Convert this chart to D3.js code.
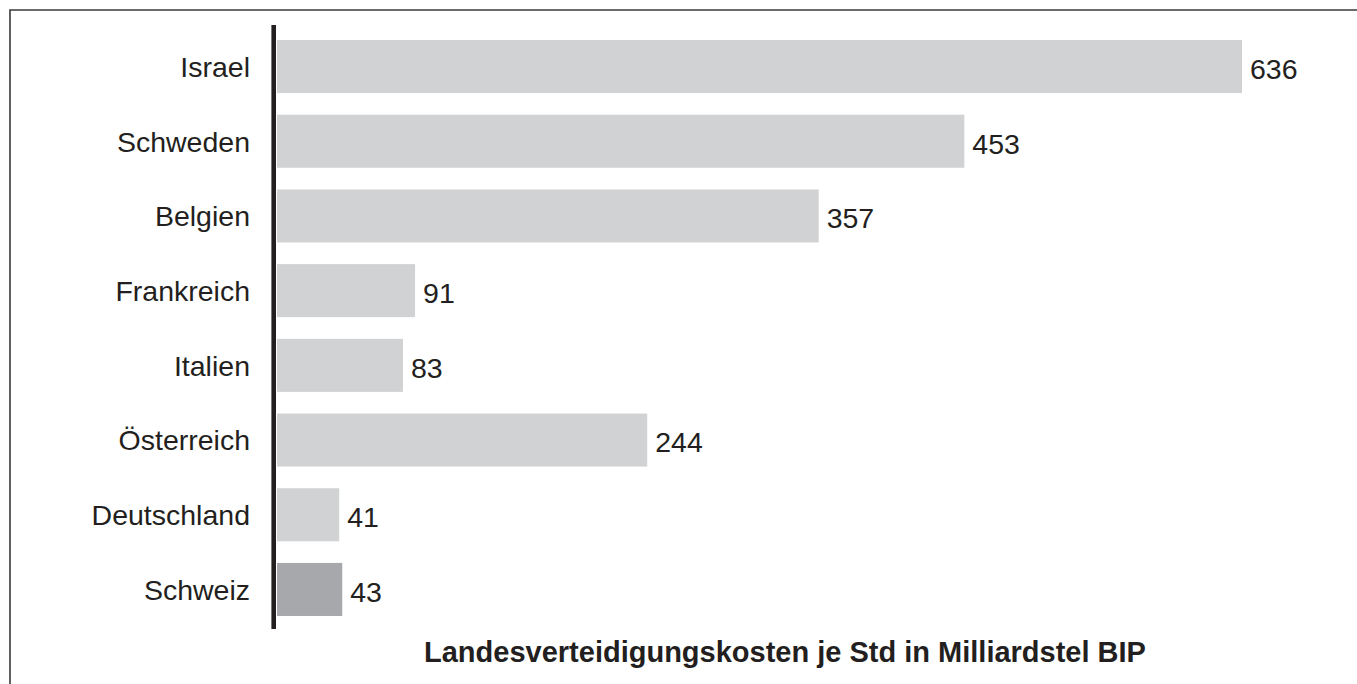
<!DOCTYPE html>
<html>
<head>
<meta charset="utf-8">
<script src="https://cdn.jsdelivr.net/npm/d3@7"></script>
<style>
html,body{margin:0;padding:0;background:#fff;}
svg{display:block;}
text{font-family:"Liberation Sans",Arial,sans-serif;fill:#231f20;}
</style>
</head>
<body>
<svg id="chart" width="1357" height="684"></svg>
<script>
const countries = ["Israel","Schweden","Belgien","Frankreich","Italien","Österreich","Deutschland","Schweiz"];
const values = [636,453,357,91,83,244,41,43];
const highlight = ["Schweiz"];
const titleText = "Landesverteidigungskosten je Std in Milliardstel BIP";

const svg = d3.select("#chart");
const W = 1357, H = 684;

// frame (top and left edges visible)
svg.append("path")
  .attr("d", `M10,${H+5} L10,10 L${W+5},10`)
  .attr("fill","none").attr("stroke","#3a3a3a").attr("stroke-width",1.6);

const x = d3.scaleLinear().domain([0,636]).range([277,1242]);
const y = d3.scaleBand().domain(countries).range([29.2,626.8]).paddingInner(0.29).paddingOuter(0.145);

const data = countries.map((c,i)=>({c, v: values[i]}));

svg.append("g").selectAll("rect").data(data).join("rect")
  .attr("x", x(0))
  .attr("y", d=>y(d.c))
  .attr("width", d=>x(d.v)-x(0))
  .attr("height", y.bandwidth())
  .attr("fill", d=> highlight.includes(d.c) ? "#a7a8ab" : "#d1d2d4");

// category labels
svg.append("g").selectAll("text").data(data).join("text")
  .attr("x", 250)
  .attr("y", d=>y(d.c)+y.bandwidth()/2)
  .attr("dy","0.36em")
  .attr("text-anchor","end")
  .attr("font-size","28.5px")
  .text(d=>d.c);

// value labels
svg.append("g").selectAll("text").data(data).join("text")
  .attr("x", d=>x(d.v)+8)
  .attr("y", d=>y(d.c)+y.bandwidth()/2+2)
  .attr("dy","0.36em")
  .attr("font-size","28.5px")
  .text(d=>d.v);

// axis line
svg.append("line")
  .attr("x1",273.7).attr("x2",273.7)
  .attr("y1",25).attr("y2",629)
  .attr("stroke","#231f20").attr("stroke-width",4.6);

// title
svg.append("text")
  .attr("x",785).attr("y",662)
  .attr("text-anchor","middle")
  .attr("font-size","29px")
  .attr("font-weight","bold")
  .text(titleText);
</script>
</body>
</html>
